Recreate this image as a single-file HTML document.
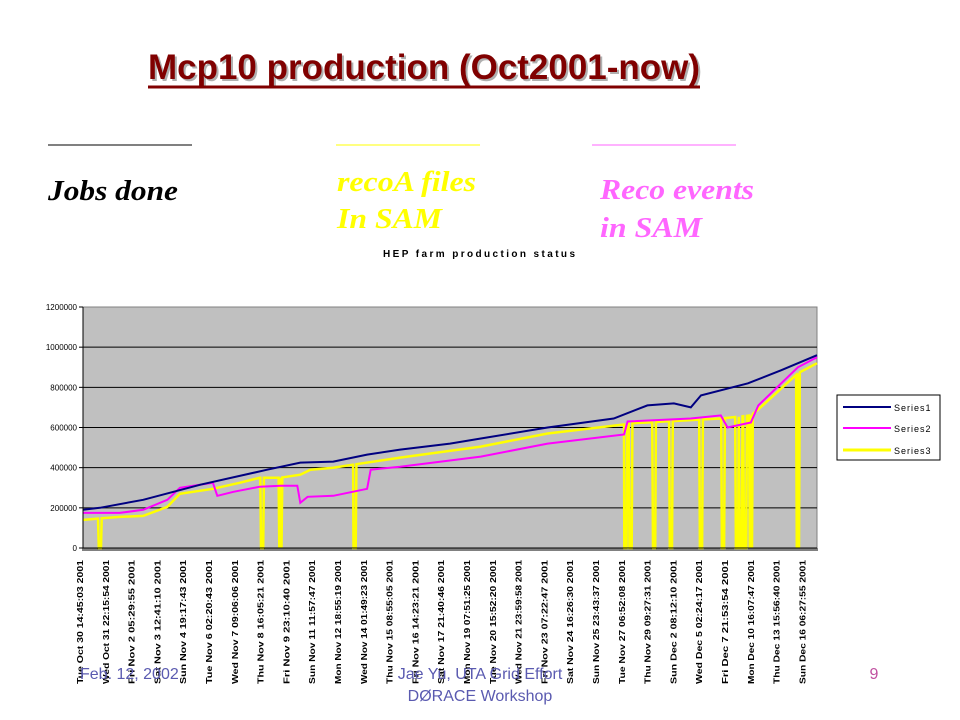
<!DOCTYPE html>
<html><head><meta charset="utf-8"><style>
html,body{margin:0;padding:0;background:#fff;}
svg{display:block;}
text{font-family:"Liberation Sans",sans-serif;}
</style></head><body>
<svg id="s" width="960" height="720" viewBox="0 0 960 720" xmlns="http://www.w3.org/2000/svg">
<text x="150" y="81" font-size="35" font-weight="bold" fill="#b0b0b0" textLength="552" lengthAdjust="spacingAndGlyphs">Mcp10 production (Oct2001-now)</text>
<text x="148" y="79" font-size="35" font-weight="bold" fill="#800000" textLength="552" lengthAdjust="spacingAndGlyphs">Mcp10 production (Oct2001-now)</text>
<line x1="148" y1="87" x2="700" y2="87" stroke="#800000" stroke-width="3"/>
<line x1="48" y1="145" x2="192" y2="145" stroke="#000" stroke-width="1"/>
<line x1="336" y1="145" x2="480" y2="145" stroke="#ffff00" stroke-width="1"/>
<line x1="592" y1="145" x2="736" y2="145" stroke="#ff66ff" stroke-width="1"/>
<text x="48" y="200" font-size="28" font-weight="bold" font-style="italic" fill="#000" textLength="130" lengthAdjust="spacingAndGlyphs" style="font-family:'Liberation Serif',serif">Jobs done</text>
<text x="337" y="191" font-size="28" font-weight="bold" font-style="italic" fill="#ffff00" textLength="139" lengthAdjust="spacingAndGlyphs" style="font-family:'Liberation Serif',serif">recoA files</text>
<text x="337" y="228" font-size="28" font-weight="bold" font-style="italic" fill="#ffff00" textLength="105" lengthAdjust="spacingAndGlyphs" style="font-family:'Liberation Serif',serif">In SAM</text>
<text x="600" y="199" font-size="28" font-weight="bold" font-style="italic" fill="#ff66ff" textLength="154" lengthAdjust="spacingAndGlyphs" style="font-family:'Liberation Serif',serif">Reco events</text>
<text x="600" y="237" font-size="28" font-weight="bold" font-style="italic" fill="#ff66ff" textLength="102" lengthAdjust="spacingAndGlyphs" style="font-family:'Liberation Serif',serif">in SAM</text>
<text x="383" y="257" font-size="10" font-weight="bold" fill="#000" textLength="192" lengthAdjust="spacing">HEP farm production status</text>
<rect x="83" y="307" width="734" height="241" fill="#c0c0c0" stroke="#808080" stroke-width="1"/>
<g id="grid"></g><g id="yt"></g><g id="xt"></g><g id="lines"></g>
<line x1="83" y1="307" x2="83" y2="549" stroke="#000"/>
<line x1="83" y1="548" x2="817" y2="548" stroke="#000"/>
<g>
<rect x="837" y="395" width="103" height="65" fill="#fff" stroke="#000"/>
<line x1="843" y1="407" x2="891" y2="407" stroke="#000080" stroke-width="2"/>
<text x="894" y="411" font-size="9" letter-spacing="1">Series1</text>
<line x1="843" y1="428" x2="891" y2="428" stroke="#ff00ff" stroke-width="2"/>
<text x="894" y="432" font-size="9" letter-spacing="1">Series2</text>
<line x1="843" y1="450" x2="891" y2="450" stroke="#ffff00" stroke-width="3"/>
<text x="894" y="454" font-size="9" letter-spacing="1">Series3</text>
</g>
<text x="80" y="679" font-size="16" fill="#5a5ab0">Feb. 12, 2002</text>
<text x="480" y="679" font-size="16" fill="#5a5ab0" text-anchor="middle">Jae Yu, UTA Grid Effort</text>
<text x="480" y="701" font-size="16" fill="#5a5ab0" text-anchor="middle">DØRACE Workshop</text>
<text x="874" y="679" font-size="16" fill="#c050a0" text-anchor="middle">9</text>
</svg>
<script>
const yTicks=[0,200000,400000,600000,800000,1000000,1200000];
const xLabels=["Tue Oct 30 14:45:03 2001","Wed Oct 31 22:15:54 2001","Fri Nov 2 05:29:55 2001","Sat Nov 3 12:41:10 2001","Sun Nov 4 19:17:43 2001","Tue Nov 6 02:20:43 2001","Wed Nov 7 09:06:06 2001","Thu Nov 8 16:05:21 2001","Fri Nov 9 23:10:40 2001","Sun Nov 11 11:57:47 2001","Mon Nov 12 18:55:19 2001","Wed Nov 14 01:49:23 2001","Thu Nov 15 08:55:05 2001","Fri Nov 16 14:23:21 2001","Sat Nov 17 21:40:46 2001","Mon Nov 19 07:51:25 2001","Tue Nov 20 15:52:20 2001","Wed Nov 21 23:59:58 2001","Fri Nov 23 07:22:47 2001","Sat Nov 24 16:26:30 2001","Sun Nov 25 23:43:37 2001","Tue Nov 27 06:52:08 2001","Thu Nov 29 09:27:31 2001","Sun Dec 2 08:12:10 2001","Wed Dec 5 02:24:17 2001","Fri Dec 7 21:53:54 2001","Mon Dec 10 16:07:47 2001","Thu Dec 13 15:56:40 2001","Sun Dec 16 06:27:55 2001"];
// t = position along time axis (0..100)
const s1T=[0,2.3,8.2,16,25.1,29.6,34.1,38.7,43.2,50,54.2,63.3,72.3,76.9,80.5,82.8,84.2,90.6,95.1,100];
const s1V=[190000,200000,240000,315000,390000,425000,430000,465000,490000,520000,545000,600000,645000,710000,720000,700000,760000,820000,885000,960000];
const s2T=[0,5,8.2,11.5,13.2,17.7,18.3,20.5,24.1,26.9,29.2,29.6,30.6,34.1,38.7,39.2,43.2,54.2,63.3,73.7,74.2,82.8,86.9,87.8,91,92,97.4,100];
const s2V=[175000,175000,190000,240000,300000,325000,260000,280000,305000,310000,310000,225000,255000,260000,295000,390000,405000,455000,520000,565000,630000,645000,660000,600000,625000,710000,900000,950000];
const s3T=[0,5,8.2,11.5,13.2,17.7,21.4,24.1,26.9,29.6,31,34.1,36.8,43.2,54.2,63.3,73.7,74.2,86.9,91,92,97.4,100];
const s3V=[140000,155000,160000,205000,270000,295000,325000,350000,350000,365000,390000,400000,415000,450000,505000,570000,615000,620000,645000,660000,690000,870000,920000];
const s3Dips=[2.3,24.4,26.9,37,73.9,74.6,77.8,80.1,84.2,87.2,89.1,89.6,90.2,91,97.4];
const NS="http://www.w3.org/2000/svg";
const X0=83,X1=817,Y0=548,Y1=307,YMAX=1200000;
const xs=t=>X0+(X1-X0)*t/100;
const ys=v=>Y0-(Y0-Y1)*v/YMAX;
function mk(tag,attrs,parent){const e=document.createElementNS(NS,tag);for(const k in attrs)e.setAttribute(k,attrs[k]);parent.appendChild(e);return e;}
const grid=document.getElementById('grid'),yt=document.getElementById('yt'),xt=document.getElementById('xt'),lines=document.getElementById('lines');
yTicks.forEach(v=>{
  if(v>0&&v<YMAX){const g=mk('line',{x1:X0,x2:X1,y1:ys(v),y2:ys(v),stroke:'#000','stroke-width':1},grid);
  
  }
  const tk=mk('line',{x1:X0-4,x2:X0,y1:ys(v),y2:ys(v),stroke:'#000'},yt);
  
  
  const t=mk('text',{x:X0-6,y:ys(v)+3,'font-size':8,'text-anchor':'end'},yt);
  t.textContent=String(v);
  
  
});
for(let x=X0;x<=X1;x+=2){const m=mk('line',{x1:x,x2:x,y1:Y0,y2:Y0+3,stroke:'#000','stroke-width':1},xt);
  
  }
xLabels.forEach((l,i)=>{
  const x=80+25.8*i;
  const t=mk('text',{x:0,y:0,'font-size':8,'font-weight':'bold',textLength:124,lengthAdjust:'spacingAndGlyphs','text-anchor':'end',transform:`translate(${x+3},560) rotate(-90)`},xt);
  t.textContent=l;
  
  
});
function stepPath(T,V,dips){
  let pts=[];
  for(let i=0;i<T.length;i++){pts.push([T[i],V[i]]);}
  if(dips){
    const val=t=>{for(let i=1;i<T.length;i++){if(T[i-1]<=t&&t<=T[i]){return V[i-1]+(V[i]-V[i-1])*(t-T[i-1])/(T[i]-T[i-1]);}}return V[V.length-1];};
    dips.forEach(d=>{pts.push([d-0.25,val(d-0.25)],[d-0.15,0],[d+0.15,0],[d+0.25,val(d+0.25)]);});
    pts.sort((a,b)=>a[0]-b[0]);
  }
  return 'M'+pts.map(p=>xs(p[0]).toFixed(1)+','+ys(p[1]).toFixed(1)).join('L');
}
const p3=mk('path',{d:stepPath(s3T,s3V,s3Dips),fill:'none',stroke:'#ffff00','stroke-width':2.5},lines);


const p2=mk('path',{d:stepPath(s2T,s2V),fill:'none',stroke:'#ff00ff','stroke-width':2},lines);


const p1=mk('path',{d:stepPath(s1T,s1V),fill:'none',stroke:'#000080','stroke-width':2},lines);


</script>
</body></html>
